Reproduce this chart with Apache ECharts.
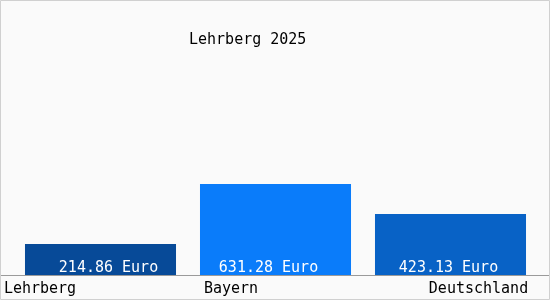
<!DOCTYPE html>
<html>
<head>
<meta charset="utf-8">
<script src="https://cdn.jsdelivr.net/npm/echarts@6/dist/echarts.min.js"></script>
<style>
  html, body { margin: 0; padding: 0; background: #fafafa; }
  #chart { width: 550px; height: 300px; }
</style>
</head>
<body>
<div id="chart"></div>
<script>
// Daten
const regions = ['Lehrberg', 'Bayern', 'Deutschland'];
const values = [214.86, 631.28, 423.13];
const barColors = ['#074a98', '#0a7cfa', '#0862c6'];
const titleText = 'Lehrberg 2025';

// kleine Verschiebungen der Beschriftungen (px)
const valueLabelShift = [8, -7, -2];
const catLabelRich = ['a', 'b', 'c'];

const mono = '"DejaVu Sans Mono", "Liberation Mono", monospace';

let myChart = echarts.init(document.getElementById('chart'));
myChart.setOption({
    backgroundColor: '#fafafa',
    animation: false,
    title: {
        text: titleText,
        left: 189,
        top: 33,
        padding: 0,
        textStyle: { fontFamily: mono, fontSize: 15, fontWeight: 'normal', color: '#000' }
    },
    grid: { left: 13, right: 12, top: 131, bottom: 25 },
    xAxis: {
        type: 'category',
        data: regions,
        axisLine: { show: false },
        axisTick: { show: false },
        axisLabel: {
            margin: 7,
            interval: 0,
            fontFamily: mono,
            fontSize: 15,
            color: '#000',
            formatter: function (v, i) {
                return '{' + catLabelRich[i] + '|' + v + '}';
            },
            rich: {
                a: { fontFamily: mono, fontSize: 15, color: '#000', padding: [0, 121, 0, 0] },
                b: { fontFamily: mono, fontSize: 15, color: '#000', padding: [0, 89, 0, 0] },
                c: { fontFamily: mono, fontSize: 15, color: '#000', padding: [0, 0, 0, 56] }
            }
        }
    },
    yAxis: {
        type: 'value',
        min: 0,
        max: 1000,
        show: false,
        splitLine: { show: false }
    },
    series: [{
        type: 'bar',
        barCategoryGap: '13.7%',
        data: values.map(function (v, i) {
            return {
                value: v,
                itemStyle: { color: barColors[i] },
                label: { offset: [valueLabelShift[i], 0] }
            };
        }),
        label: {
            show: true,
            position: 'insideBottom',
            distance: -1,
            fontFamily: mono,
            fontSize: 15,
            color: '#fff',
            formatter: function (p) {
                return p.value.toFixed(2) + ' Euro';
            }
        }
    }],
    graphic: [
        {
            type: 'rect',
            shape: { x: 0.5, y: 0.5, width: 549, height: 299 },
            style: { fill: null, stroke: '#d0d0d0', lineWidth: 1 },
            z: 100
        },
        {
            type: 'line',
            shape: { x1: 1, y1: 275.5, x2: 549, y2: 275.5 },
            style: { stroke: '#9a9a9a', lineWidth: 1 },
            z: 100
        }
    ]
});
</script>
</body>
</html>
